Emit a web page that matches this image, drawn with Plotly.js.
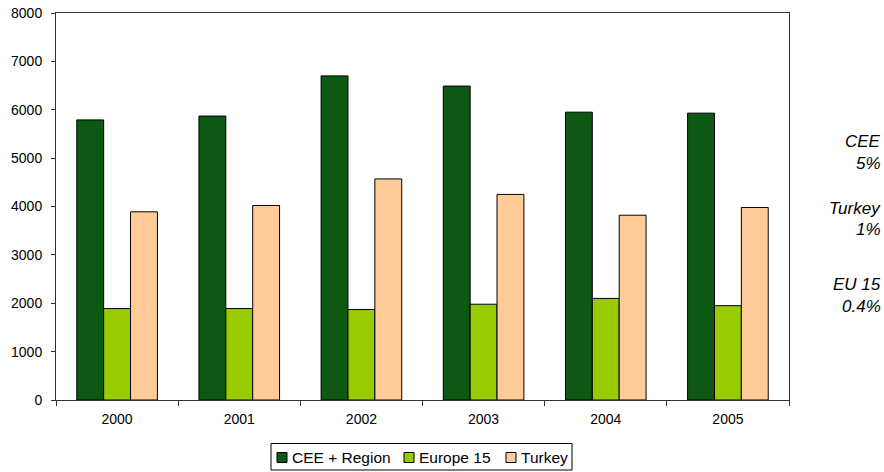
<!DOCTYPE html>
<html>
<head>
<meta charset="utf-8">
<script src="https://cdn.plot.ly/plotly-3.0.1.min.js"></script>
<style>
  html, body { margin: 0; padding: 0; background: #ffffff; }
  #chart { width: 884px; height: 472px; }
</style>
</head>
<body>
<div id="chart"></div>
<script>
// Years on the category axis
const years = ['2000', '2001', '2002', '2003', '2004', '2005'];

// Series values per year
const ceeRegion = [5790, 5870, 6700, 6490, 5950, 5930];
const europe15 = [1890, 1890, 1870, 1980, 2100, 1950];
const turkey = [3890, 4020, 4570, 4250, 3820, 3980];

// Series names and growth notes shown at the right
const seriesNames = ['CEE + Region', 'Europe 15', 'Turkey'];
const sideNotes = [
  ['CEE', '5%'],
  ['Turkey', '1%'],
  ['EU 15', '0.4%']
];

const colors = ['#0D5914', '#99CC00', '#FFCC99'];
const seriesValues = [ceeRegion, europe15, turkey];

const traces = seriesValues.map((vals, i) => ({
  type: 'bar',
  name: seriesNames[i],
  x: years,
  y: vals,
  marker: { color: colors[i], line: { color: '#000000', width: 1 } },
  hoverinfo: 'x+y+name',
  showlegend: false
}));

// Plot area spans pixels 56..789 horizontally and 13..400 vertically
const W = 884, H = 472;
const plotL = 56, plotR = 789, plotT = 13, plotB = 400;
const pw = plotR - plotL, ph = plotB - plotT;
const px = x => (x - plotL) / pw;
const py = y => (plotB - y) / ph;

const fontFamily = 'Liberation Sans, Arial, sans-serif';
const annotations = [];
const shapes = [];

// Growth notes in italics at the right of the plot
const noteY = [[141, 163], [208, 230], [284, 306]];
sideNotes.forEach((lines, i) => {
  lines.forEach((t, j) => {
    annotations.push({
      xref: 'paper', yref: 'paper',
      x: px(883), y: py(noteY[i][j]),
      xanchor: 'right', yanchor: 'middle',
      text: '<i>' + t + '</i>',
      showarrow: false,
      font: { family: fontFamily, size: 17, color: '#000000' }
    });
  });
});

// Boxed legend below the axis: frame, colour swatches and series names
shapes.push({
  type: 'rect', xref: 'paper', yref: 'paper',
  x0: px(271), x1: px(572), y0: py(443.5), y1: py(470),
  line: { color: '#000000', width: 1 }, fillcolor: '#ffffff', layer: 'above'
});
const swatchX = [277, 404, 506];
const legendMidY = 457.5;
seriesNames.forEach((name, i) => {
  shapes.push({
    type: 'rect', xref: 'paper', yref: 'paper',
    x0: px(swatchX[i]), x1: px(swatchX[i] + 10),
    y0: py(legendMidY - 5), y1: py(legendMidY + 5),
    line: { color: '#000000', width: 1 }, fillcolor: colors[i], layer: 'above'
  });
  annotations.push({
    xref: 'paper', yref: 'paper',
    x: px(swatchX[i] + 13), y: py(legendMidY),
    xanchor: 'left', yanchor: 'middle',
    text: name, showarrow: false,
    font: { family: fontFamily, size: 15.5, color: '#000000' }
  });
});

const layout = {
  width: W,
  height: H,
  margin: { l: plotL, r: W - plotR, t: plotT, b: H - plotB, pad: 0 },
  paper_bgcolor: '#ffffff',
  plot_bgcolor: '#ffffff',
  font: { family: fontFamily, size: 14, color: '#000000' },
  barmode: 'group',
  bargap: 0.34,
  bargroupgap: 0,
  showlegend: false,
  xaxis: {
    type: 'category',
    tickson: 'boundaries',
    ticks: 'outside', ticklen: 5, tickcolor: '#333333',
    showline: true, linecolor: '#333333', linewidth: 1,
    mirror: true,
    showgrid: false, zeroline: false,
    tickfont: { size: 14 },
    ticklabelstandoff: 6
  },
  yaxis: {
    range: [0, 8000],
    dtick: 1000,
    ticks: 'outside', ticklen: 4, tickcolor: '#333333',
    showline: true, linecolor: '#333333', linewidth: 1,
    mirror: true,
    showgrid: false, zeroline: false,
    tickfont: { size: 14 },
    ticklabelstandoff: 6
  },
  shapes: shapes,
  annotations: annotations
};

Plotly.newPlot('chart', traces, layout, { displayModeBar: false, staticPlot: true });
</script>
</body>
</html>
